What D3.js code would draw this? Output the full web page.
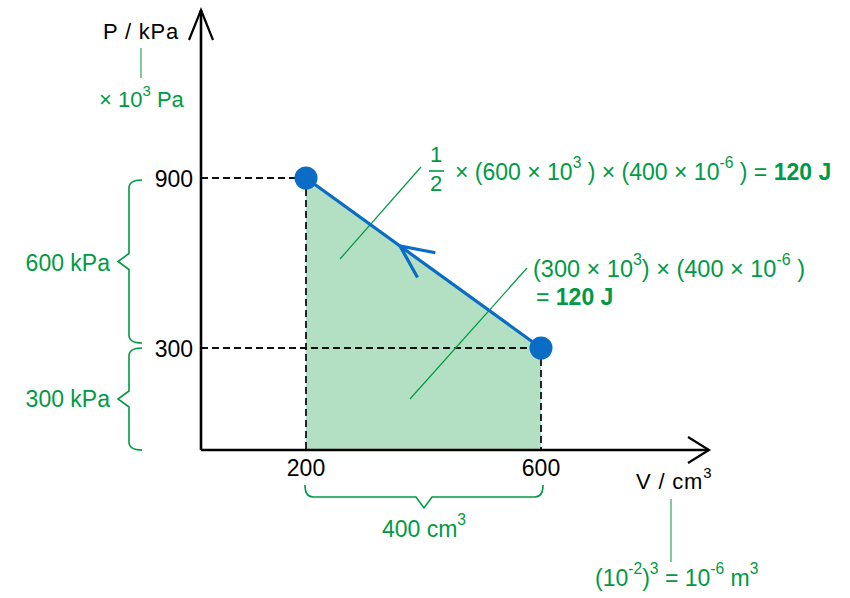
<!DOCTYPE html>
<html><head><meta charset="utf-8">
<script src="https://cdn.jsdelivr.net/npm/d3@7"></script>
<style>
html,body{margin:0;padding:0;background:#fff;}
svg text{font-family:"Liberation Sans",Arial,Helvetica,sans-serif;}
</style>
</head><body>
<svg id="c" width="850" height="598"></svg>
<script>
// ---- data ----
const volumes = [200, 600];          // cm^3
const pressures = [900, 300];        // kPa
const xTicks = [200, 600];
const yTicks = [900, 300];
const pLabel = "P / kPa";
const vLabel = "V / cm";
const deltaP = ["600 kPa", "300 kPa"];
const deltaV = "400 cm";

const GREEN = "#009a44", LGREEN = "#7fcb9b", BLUE = "#0a6cc4", FILL = "#b3dfc3";
const svg = d3.select("#c");
const x = d3.scaleLinear().domain([200, 600]).range([306, 541]);
const y = d3.scaleLinear().domain([300, 900]).range([348, 178]);
const X0 = 201, Y0 = 450;
const pts = volumes.map((v, i) => [x(v), y(pressures[i])]);

// fill area under process
svg.append("path")
  .attr("d", d3.line()([[pts[0][0], Y0], pts[0], pts[1], [pts[1][0], Y0]]))
  .attr("fill", FILL);

// dashed guides
const dash = svg.append("g").attr("stroke", "#111").attr("stroke-width", 1.8).attr("stroke-dasharray", "7,4").attr("fill", "none");
pts.forEach(p => {
  dash.append("line").attr("x1", X0).attr("y1", p[1]).attr("x2", p[0]).attr("y2", p[1]);
  dash.append("line").attr("x1", p[0]).attr("y1", p[1]).attr("x2", p[0]).attr("y2", Y0);
});

// axes
const ax = svg.append("g").attr("stroke", "#000").attr("stroke-width", 2.6).attr("fill", "none");
ax.append("line").attr("x1", X0).attr("y1", Y0).attr("x2", X0).attr("y2", 10);
ax.append("path").attr("d", `M${X0-12},40 L${X0},10 L${X0+12},40`).attr("stroke-width", 2.2);
ax.append("line").attr("x1", X0).attr("y1", Y0).attr("x2", 709).attr("y2", Y0);
ax.append("path").attr("d", `M688,437 L709,450 L688,463`).attr("stroke-width", 2.2);

// tick labels
svg.selectAll(".yt").data(yTicks).enter().append("text")
  .attr("x", 193).attr("y", d => y(d) + 8.5).attr("text-anchor", "end")
  .attr("font-size", 23).attr("fill", "#000").text(d => d);
svg.selectAll(".xt").data(xTicks).enter().append("text")
  .attr("x", d => x(d)).attr("y", 476).attr("text-anchor", "middle")
  .attr("font-size", 23).attr("fill", "#000").text(d => d);

// rich text helper
function rich(xp, yp, segs, opts = {}) {
  const size = opts.size || 23;
  const t = svg.append("text").attr("x", xp).attr("y", yp)
    .attr("font-size", size).attr("fill", opts.fill || GREEN)
    .attr("text-anchor", opts.anchor || "start").attr("xml:space", "preserve");
  if (opts.ls) t.attr("letter-spacing", opts.ls);
  const rise = Math.round(size * 0.5);
  let up = false;
  segs.forEach(s => {
    const [txt, kind] = Array.isArray(s) ? s : [s, "n"];
    const ts = t.append("tspan").text(txt);
    if (kind === "s") {
      ts.attr("font-size", size * 0.68).attr("dy", up ? 0 : -rise);
      up = true;
    } else {
      if (up) ts.attr("dy", rise);
      up = false;
      if (kind === "b") ts.attr("font-weight", "bold");
    }
  });
  return t;
}

// axis labels
rich(103, 39, [pLabel], { fill: "#000", size: 22, ls: 0.8 });
rich(636, 489, [vLabel, ["3", "s"]], { fill: "#000", size: 22, ls: 0.8 });
svg.append("line").attr("x1", 141).attr("y1", 48).attr("x2", 141).attr("y2", 78).attr("stroke", LGREEN).attr("stroke-width", 2);
rich(99, 107, ["× 10", ["3", "s"], " Pa"], { size: 22 });
svg.append("line").attr("x1", 671).attr("y1", 499).attr("x2", 671).attr("y2", 562).attr("stroke", LGREEN).attr("stroke-width", 2);
rich(595, 586, ["(10", ["-2", "s"], ")", ["3", "s"], " = 10", ["-6", "s"], " m", ["3", "s"]], { size: 23 });

// braces
function brace(vertical, a, b, c, d, tip) {
  const m = (a + b) / 2, r = 8;
  if (vertical) {
    return `M${c},${a} Q${d},${a} ${d},${a + r} L${d},${m - 8} L${tip},${m} L${d},${m + 8} L${d},${b - r} Q${d},${b} ${c},${b}`;
  }
  return `M${a},${c} Q${a},${d} ${a + r},${d} L${m - 8},${d} L${m},${tip} L${m + 8},${d} L${b - r},${d} Q${b},${d} ${b},${c}`;
}
const bg = svg.append("g").attr("stroke", GREEN).attr("stroke-width", 1.6).attr("fill", "none");
bg.append("path").attr("d", brace(true, y(900) + 2, y(300) - 5, 142, 129, 118));
bg.append("path").attr("d", brace(true, y(300), Y0, 142, 129, 118));
bg.append("path").attr("d", brace(false, x(200) - 1, x(600) + 2, 485, 497, 508));
rich(110, (y(900) + y(300)) / 2 + 8, [deltaP[0]], { anchor: "end" });
rich(110, (y(300) + Y0) / 2 + 8, [deltaP[1]], { anchor: "end" });
rich(424, 537, [deltaV, ["3", "s"]], { anchor: "middle" });

// annotation leader lines
const ann = svg.append("g").attr("stroke", GREEN).attr("stroke-width", 1.2);
ann.append("line").attr("x1", 340).attr("y1", 259).attr("x2", 421).attr("y2", 167);
ann.append("line").attr("x1", 410).attr("y1", 399).attr("x2", 527).attr("y2", 268);

// process line
svg.append("path").attr("d", d3.line()(pts)).attr("stroke", BLUE).attr("stroke-width", 3.2).attr("fill", "none");
// direction chevron
const t0 = 0.4, ang = Math.atan2(pts[1][1] - pts[0][1], pts[1][0] - pts[0][0]);
const apx = pts[0][0] + t0 * (pts[1][0] - pts[0][0]), apy = pts[0][1] + t0 * (pts[1][1] - pts[0][1]);
const L = 36, spread = 25 * Math.PI / 180;
svg.append("path")
  .attr("d", `M${apx + L * Math.cos(ang - spread)},${apy + L * Math.sin(ang - spread)} L${apx},${apy} L${apx + L * Math.cos(ang + spread)},${apy + L * Math.sin(ang + spread)}`)
  .attr("stroke", BLUE).attr("stroke-width", 3.2).attr("fill", "none");
svg.selectAll(".pt").data(pts).enter().append("circle")
  .attr("cx", d => d[0]).attr("cy", d => d[1]).attr("r", 11.5).attr("fill", BLUE);

// formula 1 : fraction
svg.append("text").attr("x", 436).attr("y", 162).attr("text-anchor", "middle").attr("font-size", 22).attr("fill", GREEN).text("1");
svg.append("line").attr("x1", 429).attr("y1", 171).attr("x2", 444).attr("y2", 171).attr("stroke", GREEN).attr("stroke-width", 1.6);
svg.append("text").attr("x", 436).attr("y", 191).attr("text-anchor", "middle").attr("font-size", 22).attr("fill", GREEN).text("2");
rich(455, 180, ["× (600 × 10", ["3", "s"], " ) × (400 × 10", ["-6", "s"], " ) = ", ["120 J", "b"]], { size: 23 });
rich(533, 277, ["(300 × 10", ["3", "s"], ") × (400 × 10", ["-6", "s"], " )"], { size: 23.5 });
rich(536, 305, ["= ", ["120 J", "b"]], { size: 23 });
</script>
</body></html>
